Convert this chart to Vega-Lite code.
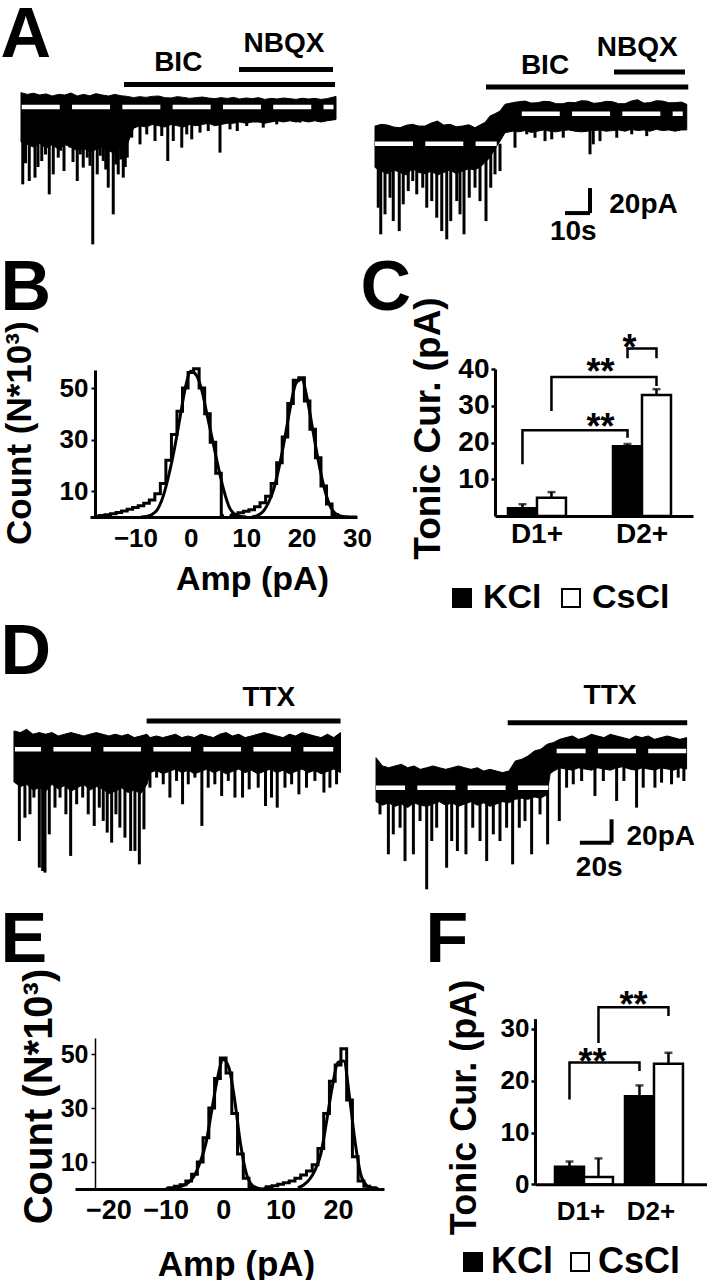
{
"$schema": "https://vega.github.io/schema/vega-lite/v6.json",
"padding": 0,
"bounds": "flush",
"align": "each",
"spacing": 0,
"columns": 4,
"resolve": {"scale": {"fill": "independent"}, "legend": {"fill": "independent"}},
"config": {
  "view": {"stroke": null},
  "font": "Liberation Sans",
  "text": {"fontWeight": "bold", "color": "black"},
  "axis": {"domainColor": "black", "tickColor": "black", "labelColor": "black", "titleColor": "black", "labelFontWeight": "bold", "titleFontWeight": "bold", "grid": false, "labelFlush": false, "labelBound": false, "labelOverlap": false},
  "legend": {"labelColor": "black", "labelFontWeight": "bold"}
},
"datasets": {
  "aL_body": [{"t":0,"I":11.5,"I2":-28},{"t":2.5,"I":10.1,"I2":-30},{"t":5,"I":11.0,"I2":-32},{"t":7.5,"I":9.6,"I2":-29},{"t":10,"I":10.5,"I2":-33},{"t":12.5,"I":8.8,"I2":-30},{"t":15,"I":10.1,"I2":-34},{"t":17.5,"I":9.6,"I2":-30},{"t":20,"I":11.2,"I2":-32},{"t":22.5,"I":8.8,"I2":-35},{"t":25,"I":10.1,"I2":-33},{"t":27.5,"I":9.0,"I2":-36},{"t":30,"I":10.7,"I2":-34},{"t":32.5,"I":9.6,"I2":-32},{"t":35,"I":8.8,"I2":-35},{"t":37.5,"I":10.1,"I2":-37},{"t":40,"I":9.0,"I2":-33},{"t":42.5,"I":8.5,"I2":-30},{"t":45,"I":7.5,"I2":-17},{"t":47.5,"I":8.3,"I2":-15},{"t":50,"I":7.7,"I2":-16},{"t":52.5,"I":8.5,"I2":-14},{"t":55,"I":8.8,"I2":-15},{"t":57.5,"I":7.5,"I2":-16},{"t":60,"I":7.2,"I2":-14},{"t":62.5,"I":8.3,"I2":-15},{"t":65,"I":7.7,"I2":-16},{"t":67.5,"I":6.9,"I2":-14},{"t":70,"I":7.5,"I2":-15},{"t":72.5,"I":8.0,"I2":-14},{"t":75,"I":7.2,"I2":-13},{"t":77.5,"I":6.7,"I2":-15},{"t":80,"I":7.5,"I2":-14},{"t":82.5,"I":6.9,"I2":-13},{"t":85,"I":7.7,"I2":-13},{"t":87.5,"I":6.4,"I2":-12},{"t":90,"I":7.2,"I2":-13},{"t":92.5,"I":6.7,"I2":-12},{"t":95,"I":7.5,"I2":-12},{"t":97.5,"I":6.1,"I2":-13},{"t":100,"I":6.9,"I2":-12},{"t":102.5,"I":6.4,"I2":-11},{"t":105,"I":7.2,"I2":-12},{"t":107.5,"I":6.7,"I2":-11},{"t":110,"I":6.1,"I2":-12},{"t":112.5,"I":7.0,"I2":-11},{"t":115,"I":6.4,"I2":-12},{"t":117.5,"I":6.9,"I2":-11},{"t":120,"I":6.1,"I2":-12},{"t":122.5,"I":6.7,"I2":-11},{"t":126,"I":8.5,"I2":-10}],
  "aL_spikes": [{"t":0.7,"I":-61.9,"I2":0},{"t":1.8,"I":-45,"I2":0},{"t":3.3,"I":-59.2,"I2":0},{"t":5.6,"I":-56.5,"I2":0},{"t":6.8,"I":-48,"I2":0},{"t":8.3,"I":-43.2,"I2":0},{"t":9.8,"I":-38,"I2":0},{"t":11.3,"I":-69.9,"I2":0},{"t":12.9,"I":-53.9,"I2":0},{"t":14.9,"I":-40.5,"I2":0},{"t":15.9,"I":-35,"I2":0},{"t":17.2,"I":-51.2,"I2":0},{"t":19.6,"I":-32.5,"I2":0},{"t":20.8,"I":-44,"I2":0},{"t":22.5,"I":-59.2,"I2":0},{"t":23.7,"I":-38,"I2":0},{"t":24.9,"I":-48.5,"I2":0},{"t":26.5,"I":-40.5,"I2":0},{"t":27.6,"I":-47,"I2":0},{"t":28.7,"I":-109.9,"I2":0},{"t":30.5,"I":-53.9,"I2":0},{"t":31.7,"I":-39,"I2":0},{"t":32.9,"I":-43.2,"I2":0},{"t":33.9,"I":-50,"I2":0},{"t":34.9,"I":-64.5,"I2":0},{"t":36.9,"I":-85.9,"I2":0},{"t":37.9,"I":-46,"I2":0},{"t":38.9,"I":-53.9,"I2":0},{"t":39.9,"I":-42,"I2":0},{"t":40.9,"I":-56.5,"I2":0},{"t":41.7,"I":-48,"I2":0},{"t":42.5,"I":-40.5,"I2":0},{"t":44.3,"I":-24.5,"I2":0},{"t":47.6,"I":-29.9,"I2":0},{"t":50.3,"I":-21.9,"I2":0},{"t":53.6,"I":-27.2,"I2":0},{"t":56.3,"I":-23.2,"I2":0},{"t":58.7,"I":-43.2,"I2":0},{"t":60.9,"I":-27.2,"I2":0},{"t":64.3,"I":-32.5,"I2":0},{"t":66.3,"I":-21.9,"I2":0},{"t":68.3,"I":-25.9,"I2":0},{"t":71.6,"I":-20.5,"I2":0},{"t":74.9,"I":-19.2,"I2":0},{"t":79.6,"I":-36.5,"I2":0},{"t":83.6,"I":-17.9,"I2":0},{"t":86.5,"I":-19.2,"I2":0},{"t":90.3,"I":-15.2,"I2":0},{"t":96.9,"I":-16.5,"I2":0},{"t":102.3,"I":-13.9,"I2":0},{"t":111.6,"I":-12.5,"I2":0}],
  "aL_dash": [{"t":0.3,"t2":125,"I":0}],
  "aL_drug": [{"t":41.2,"t2":125.6,"I":18.1},{"t":87.2,"t2":124.8,"I":30.1}],
  "aL_lab": [{"t":62.9,"I":35.2,"text":"BIC"},{"t":105.2,"I":50.1,"text":"NBQX"}],
  "aR_body": [{"t":0,"I":14.1,"I2":-19},{"t":2.5,"I":15.5,"I2":-22},{"t":5,"I":14.9,"I2":-24},{"t":7.5,"I":13.3,"I2":-21},{"t":10,"I":12.8,"I2":-23},{"t":12.5,"I":14.7,"I2":-25},{"t":15,"I":15.5,"I2":-20},{"t":17.5,"I":14.1,"I2":-23},{"t":20,"I":14.1,"I2":-24},{"t":22.5,"I":16.5,"I2":-22},{"t":25,"I":18.1,"I2":-25},{"t":27.5,"I":14.9,"I2":-23},{"t":30,"I":15.5,"I2":-21},{"t":32.5,"I":13.6,"I2":-24},{"t":35,"I":14.1,"I2":-22},{"t":37.5,"I":15.2,"I2":-20},{"t":40,"I":12.8,"I2":-21},{"t":42.5,"I":15.5,"I2":-18},{"t":44,"I":17.0,"I2":-15},{"t":46,"I":22.1,"I2":-11},{"t":48,"I":24.0,"I2":-4},{"t":50,"I":26.1,"I2":2},{"t":52,"I":31.5,"I2":8.8},{"t":55,"I":32.8,"I2":10},{"t":57.5,"I":33.6,"I2":9.5},{"t":60,"I":34.1,"I2":10.5},{"t":62.5,"I":32.5,"I2":9},{"t":65,"I":32.8,"I2":10},{"t":67.5,"I":33.9,"I2":11},{"t":70,"I":33.6,"I2":10},{"t":72.5,"I":32.0,"I2":9.5},{"t":75,"I":32.0,"I2":10.5},{"t":77.5,"I":33.1,"I2":11},{"t":80,"I":32.8,"I2":10},{"t":82.5,"I":34.4,"I2":9.5},{"t":85,"I":34.1,"I2":10},{"t":87.5,"I":32.3,"I2":10.5},{"t":90,"I":32.8,"I2":11},{"t":92.5,"I":33.9,"I2":10},{"t":95,"I":33.6,"I2":10.5},{"t":97.5,"I":32.0,"I2":11},{"t":100,"I":32.0,"I2":10},{"t":102.5,"I":34.1,"I2":11.5},{"t":105,"I":35.2,"I2":10.5},{"t":107.5,"I":32.5,"I2":11},{"t":110,"I":32.8,"I2":10},{"t":112.5,"I":34.4,"I2":11.5},{"t":115,"I":34.1,"I2":10.5},{"t":117.5,"I":32.8,"I2":11},{"t":120,"I":32.8,"I2":10},{"t":122.5,"I":33.3,"I2":11},{"t":124.7,"I":31.5,"I2":11}],
  "aR_spikes": [{"t":1.3,"I":-51.2,"I2":0},{"t":2.3,"I":-72.5,"I2":0},{"t":4,"I":-56.5,"I2":0},{"t":6,"I":-43.2,"I2":0},{"t":7.3,"I":-61.9,"I2":0},{"t":9.7,"I":-69.9,"I2":0},{"t":11.3,"I":-48.5,"I2":0},{"t":13.3,"I":-37.9,"I2":0},{"t":15.1,"I":-29.9,"I2":0},{"t":16.7,"I":-40.5,"I2":0},{"t":19.1,"I":-35.2,"I2":0},{"t":20.7,"I":-51.2,"I2":0},{"t":22.7,"I":-45.9,"I2":0},{"t":24.7,"I":-59.2,"I2":0},{"t":26.7,"I":-69.9,"I2":0},{"t":28.7,"I":-76.5,"I2":0},{"t":30.3,"I":-61.9,"I2":0},{"t":32.7,"I":-45.9,"I2":0},{"t":34,"I":-56.5,"I2":0},{"t":35.6,"I":-72.5,"I2":0},{"t":37.7,"I":-43.2,"I2":0},{"t":40,"I":-35.2,"I2":0},{"t":42,"I":-45.9,"I2":0},{"t":44.4,"I":-61.9,"I2":0},{"t":46.3,"I":-35.2,"I2":0},{"t":48,"I":-24.5,"I2":0},{"t":50,"I":-21.9,"I2":0},{"t":56,"I":-3.2,"I2":24},{"t":60.7,"I":7.5,"I2":24},{"t":64,"I":4.8,"I2":24},{"t":68,"I":2.1,"I2":24},{"t":70.7,"I":3.5,"I2":24},{"t":75.3,"I":4.8,"I2":24},{"t":86,"I":-8.5,"I2":24},{"t":87.3,"I":-0.5,"I2":24},{"t":90,"I":2.1,"I2":24},{"t":96.7,"I":4.8,"I2":24},{"t":102.7,"I":7.5,"I2":24},{"t":108.7,"I":6.1,"I2":24}],
  "aR_dash": [{"t":0,"t2":48.7,"I":0},{"t":58.7,"t2":123.1,"I":24}],
  "aR_drug": [{"t":44.4,"t2":125.3,"I":45.4},{"t":95.6,"t2":124,"I":57.4}],
  "aR_scale": [{"t":86,"t2":86,"I":-35.5,"I2":-55.5},{"t":76,"t2":86,"I":-55.5,"I2":-55.5}],
  "aR_lab": [{"t":68,"I":62.2,"text":"BIC"},{"t":104.9,"I":76.8,"text":"NBQX"},{"t":107.4,"I":-49,"text":"20pA"},{"t":79.3,"I":-70.8,"text":"10s"}],
  "dL_body": [{"t":0,"I":15.7,"I2":-28},{"t":4,"I":14.3,"I2":-32},{"t":8,"I":17.1,"I2":-30},{"t":12,"I":12.9,"I2":-35},{"t":16,"I":14.3,"I2":-33},{"t":20,"I":12.9,"I2":-36},{"t":24,"I":14.3,"I2":-30},{"t":28,"I":11.4,"I2":-34},{"t":32,"I":12.9,"I2":-31},{"t":36,"I":14.3,"I2":-36},{"t":40,"I":12.9,"I2":-33},{"t":44,"I":11.4,"I2":-30},{"t":48,"I":12.9,"I2":-35},{"t":52,"I":14.3,"I2":-32},{"t":56,"I":12.9,"I2":-34},{"t":60,"I":11.4,"I2":-38},{"t":64,"I":12.9,"I2":-36},{"t":68,"I":11.4,"I2":-33},{"t":72,"I":12.9,"I2":-37},{"t":76,"I":10.0,"I2":-35},{"t":80,"I":11.4,"I2":-38},{"t":84,"I":12.9,"I2":-30},{"t":86,"I":10.0,"I2":-20},{"t":90,"I":11.4,"I2":-18},{"t":94,"I":10.0,"I2":-21},{"t":98,"I":11.4,"I2":-19},{"t":102,"I":12.9,"I2":-17},{"t":106,"I":10.0,"I2":-20},{"t":110,"I":11.4,"I2":-18},{"t":114,"I":10.0,"I2":-21},{"t":118,"I":12.9,"I2":-19},{"t":122,"I":11.4,"I2":-17},{"t":126,"I":10.0,"I2":-20},{"t":130,"I":12.9,"I2":-18},{"t":134,"I":14.3,"I2":-21},{"t":138,"I":11.4,"I2":-19},{"t":142,"I":12.9,"I2":-17},{"t":146,"I":10.0,"I2":-20},{"t":150,"I":11.4,"I2":-18},{"t":154,"I":12.9,"I2":-21},{"t":158,"I":14.3,"I2":-19},{"t":162,"I":12.9,"I2":-17},{"t":166,"I":11.4,"I2":-20},{"t":170,"I":10.0,"I2":-18},{"t":174,"I":12.9,"I2":-21},{"t":178,"I":11.4,"I2":-19},{"t":182,"I":14.3,"I2":-17},{"t":186,"I":12.9,"I2":-20},{"t":190,"I":11.4,"I2":-18},{"t":194,"I":10.0,"I2":-21},{"t":198,"I":12.9,"I2":-19},{"t":202,"I":10.0,"I2":-17},{"t":206.3,"I":14.3,"I2":-20}],
  "dL_spikes": [{"t":3.4,"I":-78.6,"I2":0},{"t":6.9,"I":-58.6,"I2":0},{"t":10.1,"I":-55.7,"I2":0},{"t":12.6,"I":-41.4,"I2":0},{"t":16,"I":-101.4,"I2":0},{"t":18.1,"I":-104.3,"I2":0},{"t":19.6,"I":-105.7,"I2":0},{"t":22.3,"I":-72.9,"I2":0},{"t":25.9,"I":-50,"I2":0},{"t":29.1,"I":-41.4,"I2":0},{"t":32.8,"I":-55.7,"I2":0},{"t":35.8,"I":-91.4,"I2":0},{"t":39.6,"I":-47.1,"I2":0},{"t":43.4,"I":-41.4,"I2":0},{"t":46.9,"I":-55.7,"I2":0},{"t":50.7,"I":-65.7,"I2":0},{"t":53.9,"I":-50,"I2":0},{"t":56.4,"I":-61.4,"I2":0},{"t":58.9,"I":-71.4,"I2":0},{"t":61.7,"I":-80,"I2":0},{"t":64.4,"I":-55.7,"I2":0},{"t":66.9,"I":-67.1,"I2":0},{"t":70.1,"I":-75.7,"I2":0},{"t":73.7,"I":-87.1,"I2":0},{"t":76.4,"I":-87.1,"I2":0},{"t":79.2,"I":-98.6,"I2":0},{"t":82.1,"I":-68.6,"I2":0},{"t":85.9,"I":-32.9,"I2":0},{"t":90.1,"I":-24.3,"I2":0},{"t":94.3,"I":-30,"I2":0},{"t":98.5,"I":-41.4,"I2":0},{"t":102.7,"I":-27.1,"I2":0},{"t":106.5,"I":-47.1,"I2":0},{"t":110.1,"I":-30,"I2":0},{"t":114.3,"I":-24.3,"I2":0},{"t":118.7,"I":-65.7,"I2":0},{"t":122.7,"I":-32.9,"I2":0},{"t":126.9,"I":-30,"I2":0},{"t":131.2,"I":-40,"I2":0},{"t":135.4,"I":-27.1,"I2":0},{"t":139.6,"I":-41.4,"I2":0},{"t":144.4,"I":-41.4,"I2":0},{"t":148.6,"I":-34.3,"I2":0},{"t":154.3,"I":-32.9,"I2":0},{"t":158.9,"I":-48.6,"I2":0},{"t":162.7,"I":-41.4,"I2":0},{"t":166.3,"I":-50,"I2":0},{"t":171.2,"I":-32.9,"I2":0},{"t":175.4,"I":-30,"I2":0},{"t":180,"I":-38.6,"I2":0},{"t":184.8,"I":-32.9,"I2":0},{"t":190.1,"I":-27.1,"I2":0},{"t":195.8,"I":-37.1,"I2":0},{"t":199.6,"I":-32.9,"I2":0},{"t":203.8,"I":-30,"I2":0}],
  "dL_dash": [{"t":0.6,"t2":201.7,"I":0}],
  "dL_drug": [{"t":83.8,"t2":206.3,"I":24.3}],
  "dL_lab": [{"t":161,"I":44.3,"text":"TTX"}],
  "dR_body": [{"t":0,"I":25.7,"I2":-12},{"t":4,"I":18.6,"I2":-15},{"t":8,"I":17.1,"I2":-13},{"t":12,"I":18.6,"I2":-16},{"t":16,"I":20.0,"I2":-14},{"t":20,"I":17.1,"I2":-17},{"t":24,"I":18.6,"I2":-13},{"t":28,"I":15.7,"I2":-15},{"t":32,"I":17.1,"I2":-16},{"t":36,"I":18.6,"I2":-14},{"t":40,"I":17.1,"I2":-12},{"t":44,"I":15.7,"I2":-15},{"t":48,"I":17.1,"I2":-13},{"t":52,"I":18.6,"I2":-16},{"t":56,"I":17.1,"I2":-14},{"t":60,"I":15.7,"I2":-12},{"t":64,"I":17.1,"I2":-15},{"t":68,"I":14.3,"I2":-13},{"t":72,"I":15.7,"I2":-16},{"t":76,"I":14.3,"I2":-14},{"t":80,"I":12.9,"I2":-12},{"t":84,"I":14.3,"I2":-13},{"t":88,"I":22.9,"I2":-10},{"t":92,"I":24.3,"I2":-9},{"t":96,"I":27.1,"I2":-10},{"t":100,"I":31.4,"I2":-8},{"t":104,"I":32.9,"I2":-9},{"t":108,"I":37.1,"I2":-6},{"t":110,"I":38.0,"I2":12},{"t":112,"I":38.6,"I2":14},{"t":116,"I":41.4,"I2":17},{"t":120,"I":42.9,"I2":16},{"t":124,"I":44.3,"I2":15},{"t":128,"I":41.4,"I2":17},{"t":132,"I":42.9,"I2":16},{"t":136,"I":45.7,"I2":15},{"t":140,"I":44.3,"I2":17},{"t":144,"I":42.9,"I2":16},{"t":148,"I":45.7,"I2":15},{"t":152,"I":44.3,"I2":17},{"t":156,"I":42.9,"I2":18},{"t":160,"I":41.4,"I2":16},{"t":164,"I":44.3,"I2":15},{"t":168,"I":42.9,"I2":17},{"t":172,"I":44.3,"I2":16},{"t":176,"I":41.4,"I2":15},{"t":180,"I":42.9,"I2":17},{"t":184,"I":44.3,"I2":16},{"t":188,"I":42.9,"I2":15},{"t":192,"I":41.4,"I2":17},{"t":196.2,"I":42.9,"I2":16}],
  "dR_spikes": [{"t":2.5,"I":-22.9,"I2":0},{"t":7.8,"I":-57.1,"I2":0},{"t":10.9,"I":-40,"I2":0},{"t":15.2,"I":-34.3,"I2":0},{"t":18.3,"I":-62.9,"I2":0},{"t":23.6,"I":-57.1,"I2":0},{"t":27.8,"I":-28.6,"I2":0},{"t":32,"I":-87.1,"I2":0},{"t":35.2,"I":-45.7,"I2":0},{"t":38.3,"I":-34.3,"I2":0},{"t":44.6,"I":-68.6,"I2":0},{"t":47.8,"I":-45.7,"I2":0},{"t":51.4,"I":-54.3,"I2":0},{"t":56.8,"I":-57.1,"I2":0},{"t":61.1,"I":-34.3,"I2":0},{"t":65.7,"I":-45.7,"I2":0},{"t":69.9,"I":-62.9,"I2":0},{"t":74.1,"I":-40,"I2":0},{"t":78.3,"I":-45.7,"I2":0},{"t":82.5,"I":-34.3,"I2":0},{"t":86.3,"I":-65.7,"I2":0},{"t":90.5,"I":-34.3,"I2":0},{"t":94.1,"I":-28.6,"I2":0},{"t":98.3,"I":-57.1,"I2":0},{"t":103.6,"I":-22.9,"I2":0},{"t":108.4,"I":-48.6,"I2":0},{"t":115.8,"I":-28.6,"I2":31.4},{"t":120.4,"I":0,"I2":31.4},{"t":124.6,"I":2.9,"I2":31.4},{"t":129.9,"I":5.7,"I2":31.4},{"t":138.3,"I":-7.1,"I2":31.4},{"t":143.6,"I":5.7,"I2":31.4},{"t":152,"I":-11.4,"I2":31.4},{"t":156.6,"I":5.7,"I2":31.4},{"t":164.6,"I":-17.1,"I2":31.4},{"t":168.8,"I":0,"I2":31.4},{"t":176.2,"I":0,"I2":31.4},{"t":180.4,"I":4.3,"I2":31.4},{"t":186.7,"I":2.9,"I2":31.4},{"t":190.9,"I":8.6,"I2":31.4},{"t":194.5,"I":5.7,"I2":31.4}],
  "dR_dash": [{"t":0,"t2":108.8,"I":0},{"t":114.1,"t2":196.2,"I":31.4}],
  "dR_drug": [{"t":83.2,"t2":196.6,"I":55.7}],
  "dR_scale": [{"t":148.8,"t2":148.8,"I":-27.1,"I2":-47.1},{"t":128.8,"t2":148.8,"I":-47.1,"I2":-47.1}],
  "dR_lab": [{"t":147.8,"I":78.6,"text":"TTX"},{"t":179.9,"I":-42,"text":"20pA"},{"t":141,"I":-68.6,"text":"20s"}],
  "b_hist": [{"cell":"D1+","amp":-17,"count":0.3},{"cell":"D1+","amp":-16,"count":0.6},{"cell":"D1+","amp":-15,"count":0.9},{"cell":"D1+","amp":-14,"count":1.3},{"cell":"D1+","amp":-13,"count":1.7},{"cell":"D1+","amp":-12,"count":2.3},{"cell":"D1+","amp":-11,"count":3.0},{"cell":"D1+","amp":-10,"count":3.7},{"cell":"D1+","amp":-9,"count":4.4},{"cell":"D1+","amp":-8,"count":5.3},{"cell":"D1+","amp":-7,"count":6.6},{"cell":"D1+","amp":-6,"count":9},{"cell":"D1+","amp":-5,"count":13},{"cell":"D1+","amp":-4,"count":22},{"cell":"D1+","amp":-3,"count":32},{"cell":"D1+","amp":-2,"count":41},{"cell":"D1+","amp":-1,"count":50},{"cell":"D1+","amp":0,"count":56},{"cell":"D1+","amp":1,"count":57.5},{"cell":"D1+","amp":2,"count":50},{"cell":"D1+","amp":3,"count":40},{"cell":"D1+","amp":4,"count":29},{"cell":"D1+","amp":5,"count":17},{"cell":"D1+","amp":6,"count":0.5},{"cell":"D2+","amp":7,"count":0.6},{"cell":"D2+","amp":8,"count":1.0},{"cell":"D2+","amp":9,"count":1.6},{"cell":"D2+","amp":10,"count":2.2},{"cell":"D2+","amp":11,"count":2.8},{"cell":"D2+","amp":12,"count":4},{"cell":"D2+","amp":13,"count":5.5},{"cell":"D2+","amp":14,"count":8},{"cell":"D2+","amp":15,"count":13},{"cell":"D2+","amp":16,"count":21},{"cell":"D2+","amp":17,"count":31},{"cell":"D2+","amp":18,"count":44},{"cell":"D2+","amp":19,"count":53},{"cell":"D2+","amp":20,"count":54},{"cell":"D2+","amp":21,"count":45},{"cell":"D2+","amp":22,"count":34},{"cell":"D2+","amp":23,"count":23},{"cell":"D2+","amp":24,"count":12},{"cell":"D2+","amp":25,"count":5},{"cell":"D2+","amp":26,"count":1},{"cell":"D2+","amp":27,"count":0.2}],
  "b_fit": [{"cell":"D1+","amp":-9,"count":0},{"cell":"D1+","amp":-8,"count":0.2},{"cell":"D1+","amp":-7,"count":1},{"cell":"D1+","amp":-6,"count":3},{"cell":"D1+","amp":-5,"count":8},{"cell":"D1+","amp":-4,"count":16},{"cell":"D1+","amp":-3,"count":26},{"cell":"D1+","amp":-2,"count":38},{"cell":"D1+","amp":-1,"count":50},{"cell":"D1+","amp":0,"count":56.5},{"cell":"D1+","amp":1,"count":55},{"cell":"D1+","amp":2,"count":49},{"cell":"D1+","amp":3,"count":39},{"cell":"D1+","amp":4,"count":29},{"cell":"D1+","amp":5,"count":19},{"cell":"D1+","amp":6,"count":10},{"cell":"D1+","amp":7,"count":3.5},{"cell":"D1+","amp":8,"count":1},{"cell":"D1+","amp":9,"count":0.2},{"cell":"D1+","amp":10,"count":0},{"cell":"D2+","amp":11,"count":0},{"cell":"D2+","amp":12,"count":0.5},{"cell":"D2+","amp":13,"count":2},{"cell":"D2+","amp":14,"count":5.5},{"cell":"D2+","amp":15,"count":11},{"cell":"D2+","amp":16,"count":20},{"cell":"D2+","amp":17,"count":31},{"cell":"D2+","amp":18,"count":43},{"cell":"D2+","amp":19,"count":52},{"cell":"D2+","amp":20,"count":53.5},{"cell":"D2+","amp":21,"count":46},{"cell":"D2+","amp":22,"count":34},{"cell":"D2+","amp":23,"count":22},{"cell":"D2+","amp":24,"count":12},{"cell":"D2+","amp":25,"count":5},{"cell":"D2+","amp":26,"count":1.5},{"cell":"D2+","amp":27,"count":0.4},{"cell":"D2+","amp":28,"count":0.1},{"cell":"D2+","amp":30,"count":0}],
  "b_lab": [{"cell":"D1+","amp":0},{"cell":"D2+","amp":20.4}],
  "e_hist": [{"cell":"D1+","amp":-10,"count":0.2},{"cell":"D1+","amp":-9,"count":0.5},{"cell":"D1+","amp":-8,"count":1.0},{"cell":"D1+","amp":-7,"count":1.6},{"cell":"D1+","amp":-6,"count":3},{"cell":"D1+","amp":-5,"count":5.5},{"cell":"D1+","amp":-4,"count":10},{"cell":"D1+","amp":-3,"count":19},{"cell":"D1+","amp":-2,"count":30},{"cell":"D1+","amp":-1,"count":41},{"cell":"D1+","amp":0,"count":48.6},{"cell":"D1+","amp":1,"count":43},{"cell":"D1+","amp":2,"count":28},{"cell":"D1+","amp":3,"count":13},{"cell":"D1+","amp":4,"count":4},{"cell":"D1+","amp":5,"count":0.6},{"cell":"D1+","amp":6,"count":0.1},{"cell":"D2+","amp":7,"count":0.3},{"cell":"D2+","amp":8,"count":0.8},{"cell":"D2+","amp":9,"count":1.2},{"cell":"D2+","amp":10,"count":1.8},{"cell":"D2+","amp":11,"count":2.3},{"cell":"D2+","amp":12,"count":3},{"cell":"D2+","amp":13,"count":4},{"cell":"D2+","amp":14,"count":5.2},{"cell":"D2+","amp":15,"count":6.7},{"cell":"D2+","amp":16,"count":9},{"cell":"D2+","amp":17,"count":15},{"cell":"D2+","amp":18,"count":28},{"cell":"D2+","amp":19,"count":40},{"cell":"D2+","amp":20,"count":46},{"cell":"D2+","amp":21,"count":52},{"cell":"D2+","amp":22,"count":33},{"cell":"D2+","amp":23,"count":12},{"cell":"D2+","amp":24,"count":3},{"cell":"D2+","amp":25,"count":1},{"cell":"D2+","amp":26,"count":0.5},{"cell":"D2+","amp":27,"count":0.2}],
  "e_fit": [{"cell":"D1+","amp":-9,"count":0.2},{"cell":"D1+","amp":-8,"count":0.5},{"cell":"D1+","amp":-7,"count":1.2},{"cell":"D1+","amp":-6,"count":2.5},{"cell":"D1+","amp":-5,"count":5},{"cell":"D1+","amp":-4,"count":10},{"cell":"D1+","amp":-3,"count":17},{"cell":"D1+","amp":-2,"count":29},{"cell":"D1+","amp":-1,"count":41},{"cell":"D1+","amp":0,"count":48},{"cell":"D1+","amp":1,"count":45},{"cell":"D1+","amp":2,"count":33},{"cell":"D1+","amp":3,"count":17},{"cell":"D1+","amp":4,"count":6},{"cell":"D1+","amp":5,"count":1.5},{"cell":"D1+","amp":6,"count":0.3},{"cell":"D1+","amp":7,"count":0},{"cell":"D2+","amp":13,"count":0.5},{"cell":"D2+","amp":14,"count":1.5},{"cell":"D2+","amp":15,"count":3.5},{"cell":"D2+","amp":16,"count":7},{"cell":"D2+","amp":17,"count":13},{"cell":"D2+","amp":18,"count":25},{"cell":"D2+","amp":19,"count":38},{"cell":"D2+","amp":20,"count":47},{"cell":"D2+","amp":21,"count":47.5},{"cell":"D2+","amp":22,"count":34},{"cell":"D2+","amp":23,"count":17},{"cell":"D2+","amp":24,"count":5},{"cell":"D2+","amp":25,"count":1.3},{"cell":"D2+","amp":26,"count":0.3},{"cell":"D2+","amp":27,"count":0}],
  "e_lab": [{"cell":"D1+","amp":0.7},{"cell":"D2+","amp":21.6}],
  "c_bars": [{"group":"D1+","cond":"KCl","value":2.1,"upper":3.2},{"group":"D1+","cond":"CsCl","value":5.0,"upper":6.5},{"group":"D2+","cond":"KCl","value":19.0,"upper":19.6},{"group":"D2+","cond":"CsCl","value":32.9,"upper":34.5}],
  "c_brackets": [{"id":"b1","step":1,"group":"D1+","cond":"KCl","value":14.1},{"id":"b1","step":2,"group":"D1+","cond":"KCl","value":23.3},{"id":"b1","step":3,"group":"D2+","cond":"KCl","value":23.3},{"id":"b1","step":4,"group":"D2+","cond":"KCl","value":21.3},{"id":"b2","step":1,"group":"D1+","cond":"CsCl","value":28.6},{"id":"b2","step":2,"group":"D1+","cond":"CsCl","value":37.8},{"id":"b2","step":3,"group":"D2+","cond":"CsCl","value":37.8},{"id":"b2","step":4,"group":"D2+","cond":"CsCl","value":35.4},{"id":"b3","step":1,"group":"D2+","cond":"KCl","value":42.9},{"id":"b3","step":2,"group":"D2+","cond":"KCl","value":45.6},{"id":"b3","step":3,"group":"D2+","cond":"CsCl","value":45.6},{"id":"b3","step":4,"group":"D2+","cond":"CsCl","value":42.9}],
  "c_stars": [{"group":"D2+","cond":"KCl","value":26.8,"label":"**"},{"group":"D2+","cond":"KCl","value":41.7,"label":"**"},{"group":"D2+","cond":"CsCl","value":48.1,"label":"*"}],
  "f_bars": [{"group":"D1+","cond":"KCl","value":3.4,"upper":4.4},{"group":"D1+","cond":"CsCl","value":1.4,"upper":5.0},{"group":"D2+","cond":"KCl","value":17.0,"upper":19.1},{"group":"D2+","cond":"CsCl","value":23.3,"upper":25.4}],
  "f_brackets": [{"id":"b1","step":1,"group":"D1+","cond":"KCl","value":16.4},{"id":"b1","step":2,"group":"D1+","cond":"KCl","value":23.5},{"id":"b1","step":3,"group":"D2+","cond":"KCl","value":23.5},{"id":"b1","step":4,"group":"D2+","cond":"KCl","value":21.9},{"id":"b2","step":1,"group":"D1+","cond":"CsCl","value":27.3},{"id":"b2","step":2,"group":"D1+","cond":"CsCl","value":34.2},{"id":"b2","step":3,"group":"D2+","cond":"CsCl","value":34.2},{"id":"b2","step":4,"group":"D2+","cond":"CsCl","value":32.5}],
  "f_stars": [{"group":"D1+","cond":"CsCl","value":25.4,"label":"**"},{"group":"D2+","cond":"KCl","value":36.4,"label":"**"}]
},
"concat": [
  {"width": 1, "height": 1, "data": {"values": [{"label": "A"}]}, "mark": {"type": "text", "align": "left", "baseline": "top", "fontSize": 70}, "encoding": {"text": {"field": "label"}}},
  {"width": 359, "height": 253,
   "encoding": {"x": {"field": "t", "type": "quantitative", "scale": {"domain": [-8.0, 135.6], "nice": false, "zero": false}, "axis": null},
                "y": {"field": "I", "type": "quantitative", "scale": {"domain": [-117.6, 84.8], "nice": false, "zero": false}, "axis": null}},
   "layer": [
     {"data": {"name": "aL_body"}, "mark": {"type": "area", "color": "black", "stroke": "black", "strokeWidth": 1}, "encoding": {"y2": {"field": "I2"}}},
     {"data": {"name": "aL_spikes"}, "mark": {"type": "rule", "color": "black", "strokeWidth": 3}, "encoding": {"y2": {"field": "I2"}}},
     {"data": {"name": "aL_dash"}, "mark": {"type": "rule", "color": "white", "strokeWidth": 4.5, "strokeDash": [38, 12.3]}, "encoding": {"x2": {"field": "t2"}}},
     {"data": {"name": "aL_drug"}, "mark": {"type": "rule", "color": "black", "strokeWidth": 5}, "encoding": {"x2": {"field": "t2"}}},
     {"data": {"name": "aL_lab"}, "mark": {"type": "text", "fontSize": 28, "baseline": "middle"}, "encoding": {"text": {"field": "text"}}}
   ]},
  {"width": 1, "height": 1, "data": {"values": [{"label": ""}]}, "mark": {"type": "text", "baseline": "top"}, "encoding": {"text": {"field": "label"}}},
  {"width": 346, "height": 253,
   "encoding": {"x": {"field": "t", "type": "quantitative", "scale": {"domain": [-5.6, 132.8], "nice": false, "zero": false}, "axis": null},
                "y": {"field": "I", "type": "quantitative", "scale": {"domain": [-88.24, 114.16], "nice": false, "zero": false}, "axis": null}},
   "layer": [
     {"data": {"name": "aR_body"}, "mark": {"type": "area", "color": "black", "stroke": "black", "strokeWidth": 1}, "encoding": {"y2": {"field": "I2"}}},
     {"data": {"name": "aR_spikes"}, "mark": {"type": "rule", "color": "black", "strokeWidth": 3}, "encoding": {"y2": {"field": "I2"}}},
     {"data": {"name": "aR_dash"}, "mark": {"type": "rule", "color": "white", "strokeWidth": 4.5, "strokeDash": [38, 12.3]}, "encoding": {"x2": {"field": "t2"}}},
     {"data": {"name": "aR_drug"}, "mark": {"type": "rule", "color": "black", "strokeWidth": 5}, "encoding": {"x2": {"field": "t2"}}},
     {"data": {"name": "aR_scale"}, "mark": {"type": "rule", "color": "black", "strokeWidth": 4}, "encoding": {"x2": {"field": "t2"}, "y2": {"field": "I2"}}},
     {"data": {"name": "aR_lab"}, "mark": {"type": "text", "fontSize": 28, "baseline": "middle"}, "encoding": {"text": {"field": "text"}}}
   ]},

  {"width": 1, "height": 1, "data": {"values": [{"label": "B"}]}, "mark": {"type": "text", "align": "left", "baseline": "top", "fontSize": 70}, "encoding": {"text": {"field": "label"}}},
  {"width": 359, "height": 364,
   "encoding": {"x": {"field": "amp", "type": "quantitative", "scale": {"domain": [-18.2, 30], "range": [89, 356], "nice": false, "zero": false},
                      "axis": {"values": [-10, 0, 10, 20, 30], "offset": -101, "ticks": false, "labelPadding": 8, "labelFontSize": 26, "domainWidth": 3, "title": "Amp  (pA)", "titleFontSize": 34, "titleX": 251, "titleY": 45, "titleAlign": "center", "titleBaseline": "top"}},
                "y": {"field": "count", "type": "quantitative", "scale": {"domain": [0, 57], "range": [263, 116], "nice": false},
                      "axis": {"values": [10, 30, 50], "offset": -94, "tickSize": 4, "tickWidth": 2, "labelPadding": 3, "labelFontSize": 26, "domainWidth": 3, "title": "Count (N*10³)", "titleFontSize": 35, "titleAngle": 270, "titleBaseline": "middle", "titleAlign": "center", "titleX": -75.5, "titleY": 178.7}}},
   "layer": [
     {"data": {"name": "b_hist"}, "mark": {"type": "line", "interpolate": "step", "color": "black", "strokeWidth": 3}, "encoding": {"detail": {"field": "cell"}}},
     {"data": {"name": "b_fit"}, "mark": {"type": "line", "interpolate": "monotone", "color": "black", "strokeWidth": 3}, "encoding": {"detail": {"field": "cell"}}},
     {"data": {"name": "b_lab"}, "mark": {"type": "text", "fontSize": 26, "baseline": "middle"}, "encoding": {"y": {"datum": 66.7}, "text": {"field": "cell"}}}
   ]},
  {"width": 1, "height": 1, "data": {"values": [{"label": "C"}]}, "mark": {"type": "text", "align": "left", "baseline": "top", "fontSize": 70}, "encoding": {"text": {"field": "label"}}},
  {"width": 346, "height": 364,
   "encoding": {"x": {"field": "group", "type": "nominal", "scale": {"domain": ["D1+", "D2+"], "range": [134, 332], "paddingInner": 0.448, "paddingOuter": 0.1667, "align": 0.371},
                      "axis": {"title": null, "offset": -102, "labelAngle": 0, "ticks": false, "labelPadding": 4, "labelFontSize": 28, "domainWidth": 3}},
                "xOffset": {"field": "cond", "type": "nominal", "scale": {"domain": ["KCl", "CsCl"], "paddingInner": 0, "paddingOuter": 0}},
                "y": {"field": "value", "type": "quantitative", "scale": {"domain": [0, 40], "range": [262, 115], "nice": false},
                      "axis": {"values": [10, 20, 30, 40], "offset": -134, "tickSize": 4, "tickWidth": 2.5, "labelPadding": 2, "labelFontSize": 28, "domainWidth": 3, "title": "Tonic Cur. (pA)", "titleFontSize": 37, "titleAngle": 270, "titleBaseline": "middle", "titleAlign": "center", "titleX": -66.3, "titleY": 174}}},
   "layer": [
     {"data": {"name": "c_bars"}, "mark": {"type": "bar", "stroke": "black", "strokeWidth": 2.5},
      "encoding": {"fill": {"field": "cond", "type": "nominal", "scale": {"domain": ["KCl", "CsCl"], "range": ["black", "white"]},
                            "legend": {"orient": "none", "legendX": 84, "legendY": 327, "direction": "horizontal", "title": null, "symbolType": "square", "symbolSize": 324, "symbolStrokeColor": "black", "symbolStrokeWidth": 2, "labelFontSize": 34, "labelOffset": 4, "columnPadding": 12, "padding": 0}}}},
     {"data": {"name": "c_bars"}, "mark": {"type": "rule", "color": "black", "strokeWidth": 2.5}, "encoding": {"y2": {"field": "upper"}}},
     {"data": {"name": "c_bars"}, "mark": {"type": "tick", "orient": "horizontal", "color": "black", "thickness": 2.5, "size": 8}, "encoding": {"y": {"field": "upper", "type": "quantitative"}}},
     {"data": {"name": "c_brackets"}, "mark": {"type": "line", "color": "black", "strokeWidth": 2.5}, "encoding": {"detail": {"field": "id"}, "order": {"field": "step"}}},
     {"data": {"name": "c_stars"}, "mark": {"type": "text", "fontSize": 36, "baseline": "alphabetic", "dx": -27, "dy": 21}, "encoding": {"text": {"field": "label"}}}
   ]},

  {"width": 1, "height": 1, "data": {"values": [{"label": "D"}]}, "mark": {"type": "text", "align": "left", "baseline": "top", "fontSize": 70}, "encoding": {"text": {"field": "label"}}},
  {"width": 359, "height": 288,
   "encoding": {"x": {"field": "t", "type": "quantitative", "scale": {"domain": [-8.2, 218.6], "nice": false, "zero": false}, "axis": null},
                "y": {"field": "I", "type": "quantitative", "scale": {"domain": [-134.3, 112.5], "nice": false, "zero": false}, "axis": null}},
   "layer": [
     {"data": {"name": "dL_body"}, "mark": {"type": "area", "color": "black", "stroke": "black", "strokeWidth": 1}, "encoding": {"y2": {"field": "I2"}}},
     {"data": {"name": "dL_spikes"}, "mark": {"type": "rule", "color": "black", "strokeWidth": 3}, "encoding": {"y2": {"field": "I2"}}},
     {"data": {"name": "dL_dash"}, "mark": {"type": "rule", "color": "white", "strokeWidth": 4.5, "strokeDash": [37.5, 12.5], "strokeDashOffset": 11.5}, "encoding": {"x2": {"field": "t2"}}},
     {"data": {"name": "dL_drug"}, "mark": {"type": "rule", "color": "black", "strokeWidth": 5}, "encoding": {"x2": {"field": "t2"}}},
     {"data": {"name": "dL_lab"}, "mark": {"type": "text", "fontSize": 28, "baseline": "middle"}, "encoding": {"text": {"field": "text"}}}
   ]},
  {"width": 1, "height": 1, "data": {"values": [{"label": ""}]}, "mark": {"type": "text", "baseline": "top"}, "encoding": {"text": {"field": "label"}}},
  {"width": 346, "height": 288,
   "encoding": {"x": {"field": "t", "type": "quantitative", "scale": {"domain": [-9.5, 209.1], "nice": false, "zero": false}, "axis": null},
                "y": {"field": "I", "type": "quantitative", "scale": {"domain": [-101.4, 145.4], "nice": false, "zero": false}, "axis": null}},
   "layer": [
     {"data": {"name": "dR_body"}, "mark": {"type": "area", "color": "black", "stroke": "black", "strokeWidth": 1}, "encoding": {"y2": {"field": "I2"}}},
     {"data": {"name": "dR_spikes"}, "mark": {"type": "rule", "color": "black", "strokeWidth": 3}, "encoding": {"y2": {"field": "I2"}}},
     {"data": {"name": "dR_dash"}, "mark": {"type": "rule", "color": "white", "strokeWidth": 4.5, "strokeDash": [38, 12.3], "strokeDashOffset": 9}, "encoding": {"x2": {"field": "t2"}}},
     {"data": {"name": "dR_drug"}, "mark": {"type": "rule", "color": "black", "strokeWidth": 5}, "encoding": {"x2": {"field": "t2"}}},
     {"data": {"name": "dR_scale"}, "mark": {"type": "rule", "color": "black", "strokeWidth": 4}, "encoding": {"x2": {"field": "t2"}, "y2": {"field": "I2"}}},
     {"data": {"name": "dR_lab"}, "mark": {"type": "text", "fontSize": 28, "baseline": "middle"}, "encoding": {"text": {"field": "text"}}}
   ]},

  {"width": 1, "height": 1, "data": {"values": [{"label": "E"}]}, "mark": {"type": "text", "align": "left", "baseline": "top", "fontSize": 70}, "encoding": {"text": {"field": "label"}}},
  {"width": 359, "height": 375,
   "encoding": {"x": {"field": "amp", "type": "quantitative", "scale": {"domain": [-25.8, 28], "range": [74, 383], "nice": false, "zero": false},
                      "axis": {"values": [-20, -10, 0, 10, 20], "offset": -92, "ticks": false, "labelPadding": 8, "labelFontSize": 27, "domainWidth": 3, "title": "Amp (pA)", "titleFontSize": 35, "titleX": 235, "titleY": 58, "titleAlign": "center", "titleBaseline": "top"}},
                "y": {"field": "count", "type": "quantitative", "scale": {"domain": [0, 56], "range": [283, 132], "nice": false},
                      "axis": {"values": [10, 30, 50], "offset": -94, "tickSize": 4, "tickWidth": 1.5, "labelPadding": 3, "labelFontSize": 25, "domainWidth": 1.5, "title": "Count (N*10³)", "titleFontSize": 40, "titleAngle": 270, "titleBaseline": "middle", "titleAlign": "center", "titleX": -55.2, "titleY": 190}}},
   "layer": [
     {"data": {"name": "e_hist"}, "mark": {"type": "line", "interpolate": "step", "color": "black", "strokeWidth": 3}, "encoding": {"detail": {"field": "cell"}}},
     {"data": {"name": "e_fit"}, "mark": {"type": "line", "interpolate": "monotone", "color": "black", "strokeWidth": 3}, "encoding": {"detail": {"field": "cell"}}},
     {"data": {"name": "e_lab"}, "mark": {"type": "text", "fontSize": 28, "baseline": "middle"}, "encoding": {"y": {"datum": 62}, "text": {"field": "cell"}}}
   ]},
  {"width": 1, "height": 1, "data": {"values": [{"label": "F"}]}, "mark": {"type": "text", "align": "left", "baseline": "top", "fontSize": 70, "dx": 65}, "encoding": {"text": {"field": "label"}}},
  {"width": 346, "height": 375,
   "encoding": {"x": {"field": "group", "type": "nominal", "scale": {"domain": ["D1+", "D2+"], "range": [174, 346], "paddingInner": 0.257, "paddingOuter": 0.357, "align": 0.4},
                      "axis": {"title": null, "offset": -96.7, "labelAngle": 0, "ticks": false, "labelPadding": 14, "labelFontSize": 26, "domainWidth": 3}},
                "xOffset": {"field": "cond", "type": "nominal", "scale": {"domain": ["KCl", "CsCl"], "paddingInner": 0, "paddingOuter": 0}},
                "y": {"field": "value", "type": "quantitative", "scale": {"domain": [0, 32], "range": [278.3, 112.6], "nice": false},
                      "axis": {"values": [0, 10, 20, 30], "offset": -174, "tickSize": 4, "tickWidth": 2.5, "labelPadding": 2, "labelFontSize": 26, "domainWidth": 3, "title": "Tonic Cur. (pA)", "titleFontSize": 36, "titleAngle": 270, "titleBaseline": "middle", "titleAlign": "center", "titleX": -71, "titleY": 201}}},
   "layer": [
     {"data": {"name": "f_bars"}, "mark": {"type": "bar", "stroke": "black", "strokeWidth": 2.5},
      "encoding": {"fill": {"field": "cond", "type": "nominal", "scale": {"domain": ["KCl", "CsCl"], "range": ["black", "white"]},
                            "legend": {"orient": "none", "legendX": 94, "legendY": 338, "direction": "horizontal", "title": null, "symbolType": "square", "symbolSize": 324, "symbolStrokeColor": "black", "symbolStrokeWidth": 2, "labelFontSize": 36, "labelOffset": 0, "columnPadding": 9, "padding": 0}}}},
     {"data": {"name": "f_bars"}, "mark": {"type": "rule", "color": "black", "strokeWidth": 2.5}, "encoding": {"y2": {"field": "upper"}}},
     {"data": {"name": "f_bars"}, "mark": {"type": "tick", "orient": "horizontal", "color": "black", "thickness": 2.5, "size": 8}, "encoding": {"y": {"field": "upper", "type": "quantitative"}}},
     {"data": {"name": "f_brackets"}, "mark": {"type": "line", "color": "black", "strokeWidth": 2.5}, "encoding": {"detail": {"field": "id"}, "order": {"field": "step"}}},
     {"data": {"name": "f_stars"}, "mark": {"type": "text", "fontSize": 36, "baseline": "alphabetic", "dx": -6, "dy": 21}, "encoding": {"text": {"field": "label"}}}
   ]}
]
}
